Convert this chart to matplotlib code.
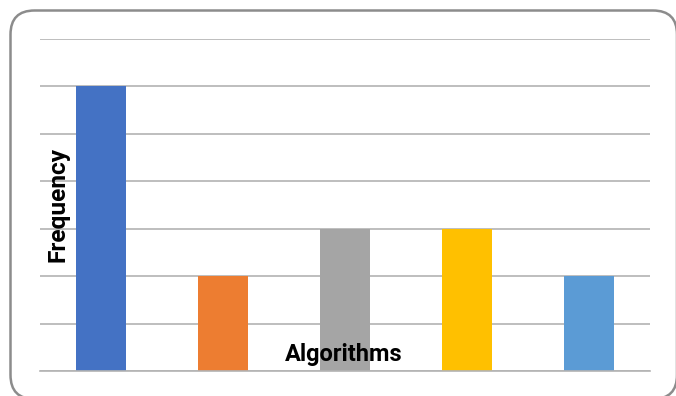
import matplotlib
matplotlib.use("Agg")
import matplotlib.pyplot as plt
from matplotlib.patches import FancyBboxPatch

categories = ["Alg 1", "Alg 2", "Alg 3", "Alg 4", "Alg 5"]
values = [6, 2, 3, 3, 2]
colors = ["#4472C4", "#ED7D31", "#A5A5A5", "#FFC000", "#5B9BD5"]

W, H = 676, 396
fig = plt.figure(figsize=(W / 100, H / 100), dpi=100)
fig.patch.set_facecolor("white")

# overlay axes in pixel coords (y up) for the rounded border
bg = fig.add_axes([0, 0, 1, 1], zorder=-1)
bg.set_xlim(0, W)
bg.set_ylim(0, H)
bg.axis("off")
bg.add_patch(FancyBboxPatch((10.5, H - 399), 666.5, 388.5,
                            boxstyle="round,pad=0,rounding_size=24",
                            fill=False, edgecolor="#8C8C8C", linewidth=1.8,
                            clip_on=False))

ax = fig.add_axes([40 / W, 1 - 371 / H, 610 / W, (371 - 39) / H])
ax.patch.set_alpha(0)
x = range(len(categories))
ax.bar(x, values, width=0.41, color=colors, zorder=3)
ax.set_xlim(-0.5, len(categories) - 0.5)
ax.set_ylim(0, 7)
ax.set_yticks(range(0, 8))
ax.yaxis.grid(True, color="#B3B3B3", linewidth=1.2, zorder=0)
ax.tick_params(left=False, bottom=False, labelleft=False, labelbottom=False)
for s in ["top", "right", "left"]:
    ax.spines[s].set_visible(False)
ax.spines["bottom"].set_color("#B3B3B3")
ax.spines["bottom"].set_linewidth(1.2)
ax.spines["bottom"].set_zorder(4)

fam = ["Roboto", "DejaVu Sans"]
t1 = fig.text(58 / W, 1 - 205 / H, "Frequency", rotation=90, ha="center", va="center",
              fontsize=13, fontweight="bold", family=fam, zorder=10)
t2 = fig.text(344 / W, 1 - 354 / H, "Algorithms", ha="center", va="center",
              fontsize=13, fontweight="bold", family=fam, zorder=10)

# fit label widths to the reference
fig.canvas.draw()
r = fig.canvas.get_renderer()
w2 = t2.get_window_extent(r).width
t2.set_fontsize(13 * 118 / w2)
h1 = t1.get_window_extent(r).height
t1.set_fontsize(13 * 115 / h1)

fig.savefig("out.png", dpi=100)
